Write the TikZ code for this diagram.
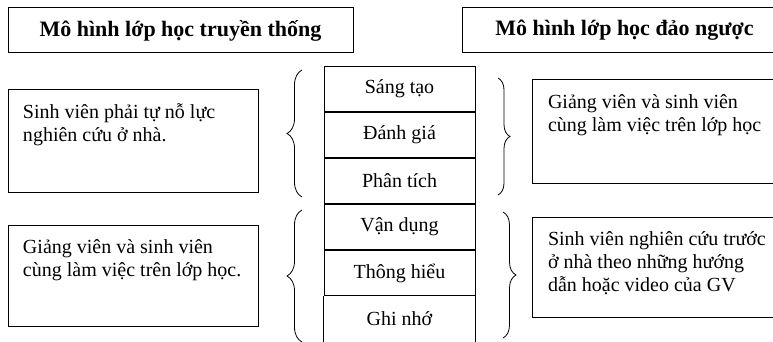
\documentclass[tikz,border=0pt]{standalone}
\usepackage{fontspec}
\setmainfont{Liberation Serif}
\usetikzlibrary{positioning,decorations.pathreplacing}

\newcommand{\txtsize}{\fontsize{20}{23}\selectfont}
\newcommand{\ttlsize}{\fontsize{22}{25}\selectfont\bfseries}

\begin{document}
\begin{tikzpicture}[x=1pt,y=-1pt,line width=1pt,
  title/.style={draw,minimum height=45pt,font=\ttlsize},
  panel/.style={draw,minimum width=250pt},
  txt/.style={anchor=north west,inner sep=0pt,align=left,font=\txtsize},
  cell/.style={draw,minimum width=151pt,minimum height=45pt,font=\txtsize},
  brace/.style={decorate,decoration={brace,amplitude=#1},line width=0.8pt}]
  \useasboundingbox (0,0) rectangle (773,342);
  % tieu de hai mo hinh
  \node[title,minimum width=345pt] (tl) at (180.5,30.5) {Mô hình lớp học truyền thống};
  \node[title,minimum width=325pt] (tr) at (624.5,30.5) {Mô hình lớp học đảo ngược};
  % khung ben trai
  \node[panel,minimum height=102pt] (l1) at (133,141) {};
  \node[panel,minimum height=101pt] (l2) at (133,275.5) {};
  \node[txt] (lt1) at ([shift={(15,12)}]l1.north west) {\strut Sinh viên phải tự nỗ lực\\nghiên cứu ở nhà.};
  \node[txt] (lt2) at ([shift={(15,12)}]l2.north west) {\strut Giảng viên và sinh viên\\cùng làm việc trên lớp học.};
  % khung ben phai
  \node[panel,minimum width=258pt,minimum height=103pt] (r1) at (661,131.5) {};
  \node[panel,minimum width=258pt,minimum height=100pt] (r2) at (661,267) {};
  \node[txt] (rt1) at ([shift={(16,12)}]r1.north west) {\strut Giảng viên và sinh viên\\cùng làm việc trên lớp học};
  \node[txt] (rt2) at ([shift={(16,12)}]r2.north west) {\strut Sinh viên nghiên cứu trước\\ở nhà theo những hướng\\dẫn hoặc video của GV};
  % thang Bloom o giua
  \node[cell] (c1) at (399.5,89) {Sáng tạo};
  \node[cell,below=0pt of c1] (c2) {Đánh giá};
  \node[cell,below=0pt of c2] (c3) {Phân tích};
  \node[cell,below=0pt of c3] (c4) {Vận dụng};
  \node[cell,below=0pt of c4] (c5) {Thông hiểu};
  \node[cell,draw=none,below=0pt of c5] (c6) {Ghi nhớ};
  \draw (c6.north west) -- ++(0,60);
  \draw (c6.north east) -- ++(0,60);
  % ngoac nhon
  \draw[brace=15pt] (302,197) -- (302,70);
  \draw[brace=15pt] (302,342) -- (302,210);
  \draw[brace=12pt] (498,78) -- (498,195);
  \draw[brace=13pt] (503,212) -- (503,338);
\end{tikzpicture}
\end{document}
